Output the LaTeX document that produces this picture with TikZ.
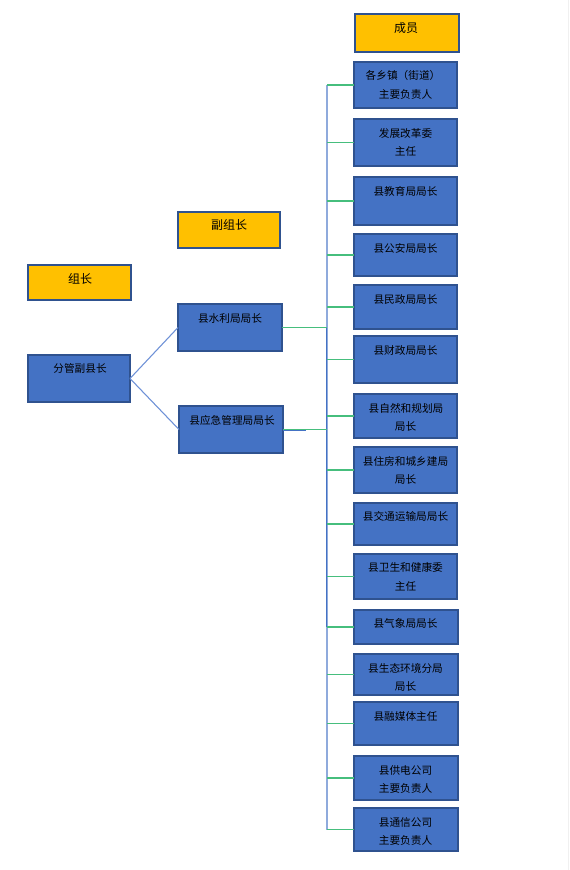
\documentclass[tikz,border=0pt]{standalone}
\usepackage{fontspec}
\newfontfamily\cjk{Noto Sans CJK SC}
\definecolor{hdrfill}{RGB}{255,192,0}
\definecolor{boxfill}{RGB}{68,114,196}
\definecolor{boxline}{RGB}{47,82,143}
\definecolor{grnline}{RGB}{70,190,125}
\definecolor{lblue}{RGB}{143,170,220}
\definecolor{mblue}{RGB}{68,114,196}
\definecolor{lnkblue}{RGB}{110,145,215}
\tikzset{
  box/.style={rectangle, draw=boxline, line width=0.8pt, fill=boxfill, inner sep=0pt, outer sep=0pt, anchor=north west},
  hdr/.style={box, fill=hdrfill},
  txt/.style={font=\cjk\fontsize{8pt}{10pt}\selectfont, text=black, inner sep=0pt, anchor=center},
  htxt/.style={font=\cjk\fontsize{9pt}{11pt}\selectfont, text=black, inner sep=0pt, anchor=center},
  grn/.style={draw=grnline, line width=0.8pt},
  lnk/.style={draw=lnkblue, line width=0.8pt},
}
% name, style, x1, y1, x2, y2
\newcommand{\mkbox}[6]{%
  \node[#2, minimum width={(#5-#3)*0.75pt}, minimum height={(#6-#4)*0.75pt}] (#1) at (#3,#4) {};}
\begin{document}
\begin{tikzpicture}[x=0.75pt,y=-0.75pt]
\path[use as bounding box, fill=white] (0,0) rectangle (569,870);
\draw[black!6, line width=0.5pt] (568,0) -- (568,870);

% headers
\mkbox{hz}{hdr}{28}{265}{131}{300}
\node[htxt] (thz) at (80,279) {组长};
\mkbox{hfz}{hdr}{178}{212}{280}{248}
\node[htxt] (thfz) at (229,225) {副组长};
\mkbox{hcy}{hdr}{355}{14}{459}{52}
\node[htxt] (thcy) at (406,28) {成员};

% left boxes
\mkbox{fg}{box}{28}{355}{130}{402}
\node[txt] (tfg) at (80,368) {分管副县长};
\mkbox{sl}{box}{178}{304}{282}{351}
\node[txt] (tsl) at (230,318) {县水利局局长};
\mkbox{yj}{box}{179}{406}{283}{453}
\node[txt] (tyj) at (232,420) {县应急管理局局长};

% member boxes
\mkbox{r1}{box}{354}{62}{457}{108}
\node[txt] (t1a) at (403,75) {各乡镇（街道）};
\node[txt] (t1b) at (405.5,94) {主要负责人};
\mkbox{r2}{box}{354}{119}{457}{166}
\node[txt] (t2a) at (405.5,133) {发展改革委};
\node[txt] (t2b) at (405.5,151) {主任};
\mkbox{r3}{box}{354}{177}{457}{225}
\node[txt] (t3) at (405.5,191) {县教育局局长};
\mkbox{r4}{box}{354}{234}{457}{276}
\node[txt] (t4) at (405.5,248) {县公安局局长};
\mkbox{r5}{box}{354}{285}{457}{329}
\node[txt] (t5) at (405.5,299) {县民政局局长};
\mkbox{r6}{box}{354}{336}{457}{383}
\node[txt] (t6) at (405.5,350) {县财政局局长};
\mkbox{r7}{box}{354}{394}{457}{438}
\node[txt] (t7a) at (406,408) {县自然和规划局};
\node[txt] (t7b) at (405.5,426) {局长};
\mkbox{r8}{box}{354}{447}{457}{493}
\node[txt] (t8a) at (405.5,461) {县住房和城乡建局};
\node[txt] (t8b) at (405.5,479) {局长};
\mkbox{r9}{box}{354}{503}{457}{545}
\node[txt] (t9) at (405.5,516) {县交通运输局局长};
\mkbox{r10}{box}{354}{554}{457}{599}
\node[txt] (t10a) at (405.5,567) {县卫生和健康委};
\node[txt] (t10b) at (405.5,586) {主任};
\mkbox{r11}{box}{354}{610}{458}{644}
\node[txt] (t11) at (405.5,623) {县气象局局长};
\mkbox{r12}{box}{354}{654}{458}{695}
\node[txt] (t12a) at (405.5,668) {县生态环境分局};
\node[txt] (t12b) at (405.5,686) {局长};
\mkbox{r13}{box}{354}{702}{458}{745}
\node[txt] (t13) at (405.5,716) {县融媒体主任};
\mkbox{r14}{box}{354}{756}{458}{800}
\node[txt] (t14a) at (405.5,770) {县供电公司};
\node[txt] (t14b) at (405.5,788) {主要负责人};
\mkbox{r15}{box}{354}{808}{458}{851}
\node[txt] (t15a) at (405.5,822) {县通信公司};
\node[txt] (t15b) at (405.5,840) {主要负责人};

% bus
\coordinate (bus) at (327,0);
\coordinate (busL) at (326.3,0);
\draw[draw=lblue, line width=1.2pt] (r1.west -| bus) -- (r15.west -| bus);
\draw[draw=mblue, line width=0.6pt] (sl.east -| busL) -- (r11.west -| busL);

% member connectors
\foreach \r in {r1,r2,r3,r4,r5,r6,r7,r8,r9,r10,r11,r12,r13,r14,r15}{
  \draw[grn] (\r.west -| bus) -- (\r.west);
}
% deputy connectors
\draw[grn] (sl.east) -- (sl.east -| bus);
\draw[draw=mblue, line width=0.8pt] ([yshift=-0.5pt]yj.east) -- ++(23,0);
\draw[grn] (yj.east) -- (yj.east -| bus);

% leader connectors
\draw[lnk] (fg.east) -- (sl.west);
\draw[lnk] (fg.east) -- (yj.west);
\end{tikzpicture}
\end{document}
